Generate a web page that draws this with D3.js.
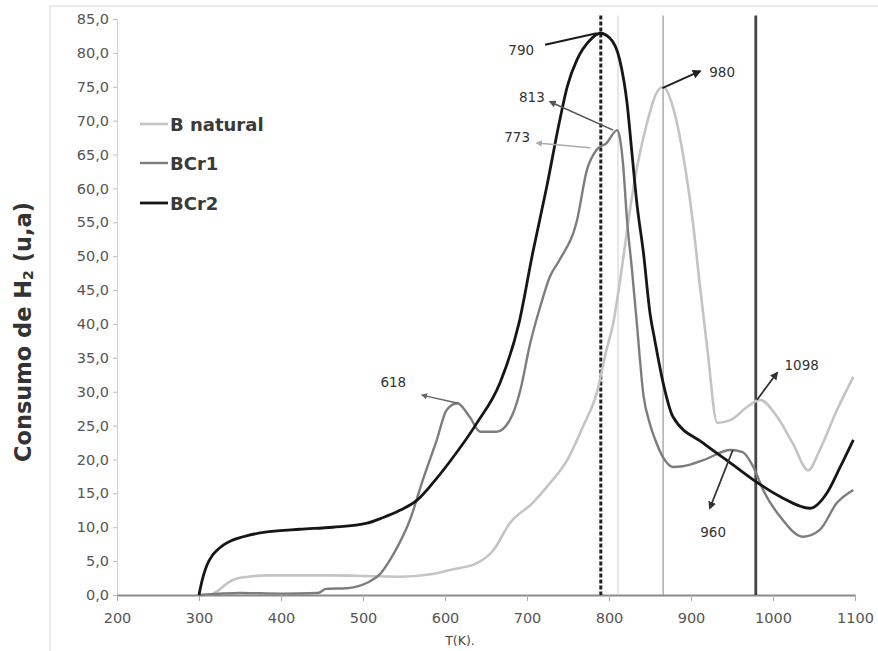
<!DOCTYPE html>
<html>
<head>
<meta charset="utf-8">
<script src="https://cdn.jsdelivr.net/npm/d3@7"></script>
<style>
  body { margin: 0; background: #fff; }
  svg { display: block; }
</style>
</head>
<body>
<svg id="chart" width="878" height="651"></svg>
<script>
// ---------- DATA ----------
const seriesNames = ["B natural", "BCr1", "BCr2"];

const bnatT = [300, 315, 325, 335, 345, 360, 383, 423, 463, 505, 545, 585, 606, 639, 659, 679, 707, 728, 749, 768, 785, 797, 805, 813, 820, 827, 834, 846, 858, 866, 878, 890, 902, 911, 920, 932, 948, 968, 984, 1005, 1024, 1043, 1057, 1078, 1098];
const bnatV = [0, 0.1, 0.8, 1.8, 2.4, 2.7, 2.9, 2.9, 2.9, 2.8, 2.7, 3.1, 3.7, 4.7, 6.6, 10.6, 13.6, 16.5, 19.9, 24.8, 29.8, 36.2, 40.0, 46.0, 52.0, 58.0, 63.0, 69.5, 74.1, 75.0, 72.0, 65.2, 55.3, 45.5, 36.2, 25.4, 25.8, 27.7, 28.8, 26.3, 22.4, 18.4, 21.4, 27.3, 32.2];

const bcr1T = [300, 350, 400, 445, 455, 480, 505, 520, 533, 545, 557, 573, 590, 602, 615, 630, 643, 663, 679, 691, 704, 716, 728, 740, 761, 773, 785, 797, 810, 813, 817, 822, 828, 834, 842, 850, 858, 866, 878, 890, 915, 948, 963, 976, 988, 1009, 1037, 1057, 1078, 1098];
const bcr1V = [0, 0.3, 0.2, 0.3, 0.9, 1.0, 1.8, 3.0, 5.2, 7.8, 11.0, 17.0, 22.9, 27.3, 28.3, 26.3, 24.1, 24.1, 25.8, 29.8, 37.2, 42.5, 47.0, 49.5, 55.3, 62.7, 65.7, 66.7, 68.6, 67.6, 63.8, 55.3, 48.0, 40.0, 29.5, 25.2, 22.4, 20.3, 18.9, 19.0, 19.9, 21.4, 21.1, 18.9, 15.5, 11.5, 8.6, 9.6, 13.6, 15.5];

const bcr2T = [300, 302, 305, 310, 316, 322, 330, 341, 360, 383, 423, 463, 505, 524, 545, 566, 585, 606, 639, 667, 690, 707, 724, 740, 749, 761, 777, 789, 801, 813, 822, 828, 834, 842, 850, 856, 866, 878, 915, 948, 976, 1009, 1045, 1066, 1082, 1098];
const bcr2V = [0, 1.2, 2.7, 4.5, 5.8, 6.6, 7.4, 8.1, 8.8, 9.3, 9.7, 10.0, 10.6, 11.4, 12.5, 14.0, 16.5, 19.7, 25.4, 31.3, 40.0, 50.5, 60.2, 70.1, 75.0, 79.0, 81.9, 82.9, 82.2, 79.0, 72.6, 65.2, 57.8, 50.5, 41.6, 37.5, 31.3, 26.3, 22.4, 19.5, 17.0, 14.5, 12.8, 15.1, 18.9, 22.9];

const xTicks = [200, 300, 400, 500, 600, 700, 800, 900, 1000, 1100];
const yTicks = [0, 5, 10, 15, 20, 25, 30, 35, 40, 45, 50, 55, 60, 65, 70, 75, 80, 85];

// vertical reference lines (T values)
const vLineT = [790, 811, 866, 979];

// annotations: label, text position, arrow start, arrow end
const annoLabel = ["790", "813", "773", "980", "618", "960", "1098"];
const annoTextT = [693, 706, 688, 938, 537, 927, 1035];
const annoTextV = [80.4, 73.5, 67.6, 77.2, 31.4, 9.3, 33.9];
const annoFromT = [722, 805, 777, 865, 616, 951, 980.5];
const annoFromV = [81.2, 68.6, 66.0, 74.8, 28.3, 21.4, 28.8];
const annoToT = [785, 728, 712, 911, 572, 923, 1005];
const annoToV = [82.9, 72.8, 66.7, 77.3, 29.5, 12.8, 32.8];

// ---------- DRAW ----------
const svg = d3.select("#chart");
const x = d3.scaleLinear().domain([200, 1100]).range([117, 855]);
const y = d3.scaleLinear().domain([0, 85]).range([595, 19]);

const locale = d3.formatLocale({decimal: ",", thousands: ".", grouping: [3], currency: ["", ""]});
const fmt = locale.format(".1f");

// outer frame
svg.append("rect").attr("x", 50).attr("y", 6).attr("width", 860).attr("height", 680)
  .attr("fill", "none").attr("stroke", "#e2e2e2").attr("stroke-width", 1.5);

// Y axis
const yAxis = svg.append("g").attr("transform", `translate(${x(200)},0)`)
  .call(d3.axisLeft(y).tickValues(yTicks).tickFormat(fmt).tickSize(4).tickPadding(4));
yAxis.select(".domain").attr("stroke", "#d0d0d0");
yAxis.selectAll(".tick line").attr("stroke", "#bbb");
yAxis.selectAll(".tick text").attr("font-family", "DejaVu Sans, sans-serif").attr("font-size", 14.5).attr("fill", "#555");

// X axis
const xAxis = svg.append("g").attr("transform", `translate(0,${y(0)})`)
  .call(d3.axisBottom(x).tickValues(xTicks).tickFormat(d3.format("d")).tickSize(6).tickPadding(12).tickSizeOuter(0));
xAxis.select(".domain").attr("stroke", "#8a8a8a").attr("stroke-width", 1.8);
xAxis.selectAll(".tick line").attr("stroke", "#aaa");
xAxis.selectAll(".tick text").attr("font-family", "DejaVu Sans, sans-serif").attr("font-size", 14.5).attr("fill", "#555");

// vertical reference lines
const vStyles = [
  {stroke: "#222", width: 3, dash: "4,2"},
  {stroke: "#d8d8d8", width: 1.2, dash: null},
  {stroke: "#a0a0a0", width: 1.3, dash: null},
  {stroke: "#444", width: 2.8, dash: null}
];
vLineT.forEach((t, i) => {
  svg.append("line")
    .attr("x1", x(t)).attr("x2", x(t))
    .attr("y1", y(85.5)).attr("y2", y(0))
    .attr("stroke", vStyles[i].stroke)
    .attr("stroke-width", vStyles[i].width)
    .attr("stroke-dasharray", vStyles[i].dash);
});

// series
const colors = ["#c4c4c4", "#7d7d7d", "#161616"];
const widths = [2.6, 2.4, 2.8];
const seriesT = [bnatT, bcr1T, bcr2T];
const seriesV = [bnatV, bcr1V, bcr2V];
const line = d3.line().x(d => x(d[0])).y(d => y(d[1])).curve(d3.curveMonotoneX);
seriesT.forEach((ts, i) => {
  const pts = ts.map((t, j) => [t, seriesV[i][j]]);
  svg.append("path").datum(pts)
    .attr("d", line)
    .attr("fill", "none")
    .attr("stroke", colors[i])
    .attr("stroke-width", widths[i])
    .attr("stroke-linejoin", "round");
});

// annotations
const annoColor = ["#1a1a1a", "#555", "#aaa", "#222", "#666", "#333", "#333"];
const annoWidth = [2, 1.6, 1.4, 2, 1.4, 1.8, 1.8];
const defs = svg.append("defs");
annoColor.forEach((c, i) => {
  defs.append("marker")
    .attr("id", "arr" + i)
    .attr("viewBox", "0 0 10 10")
    .attr("refX", 8).attr("refY", 5)
    .attr("markerWidth", 4.5).attr("markerHeight", 4.5)
    .attr("orient", "auto")
    .append("path").attr("d", "M0,0 L10,5 L0,10 z").attr("fill", c);
});
annoLabel.forEach((lab, i) => {
  svg.append("line")
    .attr("x1", x(annoFromT[i])).attr("y1", y(annoFromV[i]))
    .attr("x2", x(annoToT[i])).attr("y2", y(annoToV[i]))
    .attr("stroke", annoColor[i]).attr("stroke-width", annoWidth[i])
    .attr("marker-end", i === 0 ? null : `url(#arr${i})`);
  svg.append("text")
    .attr("x", x(annoTextT[i])).attr("y", y(annoTextV[i]))
    .attr("text-anchor", "middle").attr("dominant-baseline", "central")
    .attr("font-family", "DejaVu Sans, sans-serif").attr("font-size", 13.5)
    .attr("fill", "#333").text(lab);
});

// legend
const legY = [124, 163, 203];
seriesNames.forEach((n, i) => {
  svg.append("line").attr("x1", 140).attr("x2", 168).attr("y1", legY[i]).attr("y2", legY[i])
    .attr("stroke", colors[i]).attr("stroke-width", widths[i]);
  svg.append("text").attr("x", 170).attr("y", legY[i]).attr("dominant-baseline", "central")
    .attr("font-family", "DejaVu Sans, sans-serif").attr("font-size", 18).attr("font-weight", "bold")
    .attr("fill", "#3a3a3a").text(n);
});

// axis titles
svg.append("text").attr("x", 460).attr("y", 640).attr("text-anchor", "middle").attr("dominant-baseline", "central")
  .attr("font-family", "DejaVu Sans, sans-serif").attr("font-size", 12.5).attr("fill", "#444").text("T(K).");

const yt = svg.append("text")
  .attr("transform", "translate(23,332) rotate(-90)")
  .attr("text-anchor", "middle").attr("dominant-baseline", "central")
  .attr("font-family", "DejaVu Sans, sans-serif").attr("font-size", 22.5).attr("font-weight", "bold")
  .attr("fill", "#333");
yt.append("tspan").text("Consumo de H");
yt.append("tspan").attr("font-size", 14).attr("dy", 5).text("2");
yt.append("tspan").attr("dy", -5).text(" (u,a)");
</script>
</body>
</html>
